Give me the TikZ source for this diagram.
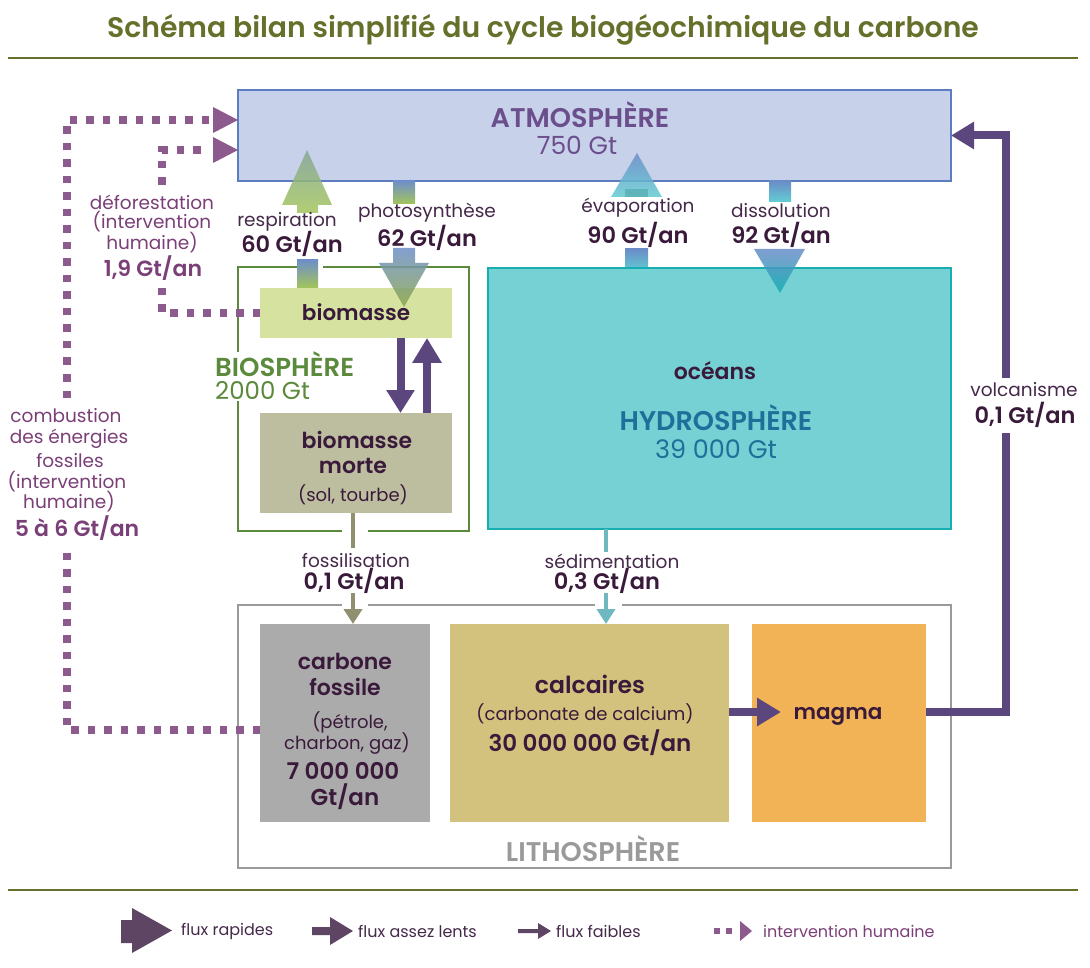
\documentclass[tikz,border=0pt]{standalone}
\usepackage{fontspec}
\setmainfont{Poppins}[BoldFont=Poppins SemiBold]
\usetikzlibrary{arrows.meta}
\newcommand\fsz[1]{\fontsize{#1}{#1}\selectfont}
\definecolor{titlecol}{HTML}{66702B}
\definecolor{atmfill}{HTML}{C8D1EA}
\definecolor{atmborder}{HTML}{5E7DC0}
\definecolor{atmtext}{HTML}{6B4E8C}
\definecolor{labtext}{HTML}{45284A}
\definecolor{valtext}{HTML}{3A1A3A}
\definecolor{biogreen}{HTML}{5B8A3C}
\definecolor{biomfill}{HTML}{D6E3A0}
\definecolor{mortefill}{HTML}{BDBDA0}
\definecolor{oceanfill}{HTML}{76D1D4}
\definecolor{oceanborder}{HTML}{17ADB3}
\definecolor{hydrotext}{HTML}{1E6F99}
\definecolor{lithogray}{HTML}{9A9A9A}
\definecolor{fossfill}{HTML}{ABABAB}
\definecolor{calcfill}{HTML}{D2C27D}
\definecolor{magmafill}{HTML}{F2B356}
\definecolor{fluxcol}{HTML}{5C467E}
\definecolor{humcol}{HTML}{8C5A8C}
\definecolor{humtext}{HTML}{7B3F78}
\definecolor{legcol}{HTML}{5E4563}
\definecolor{respblue}{HTML}{6E8FC8}
\definecolor{respgreen}{HTML}{A3C55A}
\definecolor{evapblue}{HTML}{6A8DC8}
\definecolor{evapteal}{HTML}{62CDD2}
\definecolor{foscol}{HTML}{909070}
\definecolor{sedcol}{HTML}{70B8C0}
\begin{document}
\begin{tikzpicture}[x=1pt,y=-1pt,
  box/.style={anchor=north west, inner sep=0pt, outer sep=0pt},
  lab/.style={text=labtext, font=\fsz{18.5}, inner sep=0pt},
  val/.style={text=valtext, font=\fsz{22.5}\bfseries, inner sep=0pt},
  boxtxt/.style={text=valtext, font=\fsz{22}\bfseries, inner sep=0pt},
  small/.style={text=valtext, font=\fsz{18}, inner sep=0pt},
  hlab/.style={text=humtext, font=\fsz{18.5}, inner sep=0pt},
  hval/.style={text=humtext, font=\fsz{22}\bfseries, inner sep=0pt},
  legtxt/.style={text=labtext, font=\fsz{16}, inner sep=0pt, anchor=west},
  flux/.style={draw=fluxcol, line width=8pt, -{Triangle[length=24pt,width=27pt]}},
  hum/.style={draw=humcol, line width=7.5pt, dash pattern=on 7.5pt off 9pt},
  fos/.style={draw=foscol, line width=4pt},
  sed/.style={draw=sedcol, line width=4pt},
]
\useasboundingbox (0,0) rectangle (1090,968);
\fill[white] (0,0) rectangle (1090,968);

% title
\node[text=titlecol, font=\fsz{28.3}\bfseries, inner sep=0pt] (title) at (543,30) {Schéma bilan simplifié du cycle biogéochimique du carbone};
\draw[titlecol, line width=2pt] (8,58) -- (1078,58);
\draw[titlecol, line width=2pt] (8,890) -- (1078,890);

% atmosphere
\node[box, minimum width=713pt, minimum height=91pt, fill=atmfill, draw=atmborder, line width=2.5pt] (atm) at (238,90) {};
\node[text=atmtext, font=\fsz{27}\bfseries, inner sep=0pt] (atmT) at (580,115) {ATMOSPHÈRE};
\node[text=atmtext, font=\fsz{25}, inner sep=0pt] (atmV) at (577,145) {750 Gt};

% biosphere
\node[box, minimum width=231pt, minimum height=264pt, draw=biogreen, line width=2.5pt] (bio) at (238,267) {};
\fill[white] (297,264) rectangle (323,270);
\fill[white] (342,528) rectangle (368,534);
\fill[white] (234,352) rectangle (242,401);
\node[box, minimum width=192pt, minimum height=50pt, fill=biomfill, text=valtext, font=\fsz{21.5}\bfseries] (biom) at (260,288) {\raisebox{1pt}{biomasse}};
\node[text=biogreen, font=\fsz{26}\bfseries, inner sep=0pt, anchor=west] (bioT) at (215,364) {BIOSPHÈRE};
\node[text=biogreen, font=\fsz{24.5}, inner sep=0pt, anchor=west] (bioV) at (215,391) {2000 Gt};
\node[box, minimum width=192pt, minimum height=100pt, fill=mortefill] (morte) at (260,413) {};
\node[boxtxt] (morte1) at (357,440) {biomasse};
\node[boxtxt] (morte2) at (353,466) {morte};
\node[small] (morte3) at (353,495) {(sol, tourbe)};

% oceans
\node[box, minimum width=463pt, minimum height=261pt, fill=oceanfill, draw=oceanborder, line width=2.5pt] (ocean) at (488,268) {};
\node[boxtxt] (oceT) at (715,371) {océans};
\node[text=hydrotext, font=\fsz{27}\bfseries, inner sep=0pt] (hydT) at (716,418) {HYDROSPHÈRE};
\node[text=hydrotext, font=\fsz{25.5}, inner sep=0pt] (hydV) at (716,449) {39 000 Gt};

% lithosphere
\node[box, minimum width=713pt, minimum height=263pt, draw=lithogray, line width=2.5pt] (litho) at (238,605) {};
\fill[white] (342,602) rectangle (368,609);
\fill[white] (595,602) rectangle (622,609);
\node[text=lithogray, font=\fsz{27}\bfseries, inner sep=0pt] (lithoT) at (593,849) {LITHOSPHÈRE};
\node[box, minimum width=170pt, minimum height=198pt, fill=fossfill] (foss) at (260,624) {};
\node[boxtxt] (foss1) at (345,661) {carbone};
\node[boxtxt] (foss2) at (345,687) {fossile};
\node[small] (foss3) at (350,722) {(pétrole,};
\node[small] (foss4) at (347,744) {charbon, gaz)};
\node[boxtxt, font=\fsz{23}\bfseries] (foss5) at (343,771) {7 000 000};
\node[boxtxt, font=\fsz{23}\bfseries] (foss6) at (345,797) {Gt/an};
\node[box, minimum width=279pt, minimum height=198pt, fill=calcfill] (calc) at (450,624) {};
\node[boxtxt, font=\fsz{23.5}\bfseries] (calc1) at (590,684) {calcaires};
\node[small] (calc2) at (585,714) {(carbonate de calcium)};
\node[boxtxt, font=\fsz{23}\bfseries] (calc3) at (590,743) {30 000 000 Gt/an};
\node[box, minimum width=174pt, minimum height=198pt, fill=magmafill] (magma) at (752,624) {};
\node[boxtxt, font=\fsz{21.5}\bfseries] (magmaT) at (838,716) {magma};

% gradient flux arrows
\shade[top color=respblue!55!respgreen, bottom color=respgreen, opacity=0.85] (297,213) -- (297,205) -- (282,205) -- (307,150) -- (332,205) -- (318,205) -- (318,213) -- cycle;
\shade[top color=respblue, bottom color=respgreen] (297,260) rectangle (318,288);
\shade[top color=respblue, bottom color=respgreen] (393,181) rectangle (415,204);
\shade[top color=respblue, bottom color=respgreen!85!black, opacity=0.85] (393,248) -- (415,248) -- (415,263) -- (429,263) -- (404,307) -- (379,263) -- (393,263) -- cycle;
\shade[top color=evapblue, bottom color=evapteal, opacity=0.85] (611,197) -- (637,153) -- (662,197) -- cycle;
\fill[evapteal!80!black, opacity=0.6] (625,189) rectangle (648,197);
\shade[top color=evapblue, bottom color=evapteal!80!evapblue] (625,249) rectangle (648,267);
\shade[top color=evapblue, bottom color=evapteal] (769,181) rectangle (791,202);
\shade[top color=evapblue, bottom color=oceanborder, opacity=0.85] (754,249) -- (805,249) -- (780,293) -- cycle;

\node[lab] (respL) at (287,222) {respiration};
\node[val] (respV) at (292,244) {60 Gt/an};
\node[lab] (photL) at (427,213) {photosynthèse};
\node[val] (photV) at (427,238) {62 Gt/an};
\node[lab] (evapL) at (638,208) {évaporation};
\node[val] (evapV) at (638,235) {90 Gt/an};
\node[lab] (dissL) at (781,211) {dissolution};
\node[val] (dissV) at (781,235) {92 Gt/an};

% biomasse <-> biomasse morte
\draw[flux, -{Triangle[length=23pt,width=27pt]}] ([xshift=44.5pt]biom.south) -- ([xshift=44.5pt]morte.north);
\draw[flux, -{Triangle[length=25pt,width=28pt]}] ([xshift=71pt]morte.north) -- ([xshift=71pt]biom.south);

% fossilisation / sedimentation
\draw[fos] ([xshift=-3pt]morte.south) -- (353,548);
\draw[fos, -{Triangle[length=15pt,width=18pt]}] (353,593) -- ([xshift=8pt]foss.north);
\node[lab] (fosL) at (356,561) {fossilisation};
\node[val] (fosV) at (354,581) {0,1 Gt/an};
\draw[sed] ([xshift=-113.5pt]ocean.south) -- (606,552);
\draw[sed, -{Triangle[length=15pt,width=18pt]}] (606,593) -- ([xshift=16.5pt]calc.north);
\node[lab] (sedL) at (612,561) {sédimentation};
\node[val] (sedV) at (607,581) {0,3 Gt/an};

% calcaires -> magma -> atmosphere
\draw[flux, -{Triangle[length=24pt,width=27pt]}] ([yshift=11pt]calc.east) -- ([xshift=29pt,yshift=11pt]magma.west);
\coordinate (vc) at (1006,712);
\draw[flux, -{Triangle[length=23pt,width=26pt]}] ([yshift=11pt]magma.east) -- (vc) |- (atm.east);
\fill[white] (998,378) rectangle (1014,433);
\node[lab] (volL) at (1024,390) {volcanisme};
\node[val] (volV) at (1025,415) {0,1 Gt/an};

% human interventions
\coordinate (h1) at (67,730);
\coordinate (h2) at (67,120);
\draw[hum] ([yshift=-7pt]foss.west) -- (h1) -- (67,548);
\draw[hum] (67,398) -- (h2) -- (209,120);
\fill[humcol] (213,107) -- ([yshift=15.5pt]atm.west) -- (213,133) -- cycle;
\coordinate (d1) at (162,313);
\coordinate (d2) at (162,150);
\draw[hum] (biom.west) -- (d1) -- (162,283);
\draw[hum] (162,185) -- (d2) -- (209,150);
\fill[humcol] (213,137) -- ([yshift=-14.5pt]atm.west) -- (213,163) -- cycle;

\node[hlab] (defL1) at (152,202) {déforestation};
\node[hlab] (defL2) at (152,222) {(intervention};
\node[hlab] (defL3) at (152,243) {humaine)};
\node[hval] (defV) at (153,268) {1,9 Gt/an};
\node[hlab] (comL1) at (66,416) {combustion};
\node[hlab] (comL2) at (69,439) {des énergies};
\node[hlab] (comL3) at (70,461) {fossiles};
\node[hlab] (comL4) at (67,482) {(intervention};
\node[hlab] (comL5) at (69,502) {humaine)};
\node[hval] (comV) at (77,528) {5 à 6 Gt/an};

% legend
\fill[legcol] (121,920) -- (132,920) -- (132,908) -- (172,930.5) -- (132,953) -- (132,943) -- (121,943) -- cycle;
\node[legtxt] (leg1) at (181,931) {flux rapides};
\fill[legcol] (312,927) -- (330,927) -- (330,917) -- (353,931) -- (330,945) -- (330,935) -- (312,935) -- cycle;
\node[legtxt] (leg2) at (358,931) {flux assez lents};
\fill[legcol] (518,929) -- (538,929) -- (538,923) -- (551,931) -- (538,939) -- (538,933) -- (518,933) -- cycle;
\node[legtxt] (leg3) at (556,931) {flux faibles};
\fill[humcol] (714,928) rectangle (720,934);
\fill[humcol] (726,928) rectangle (732,934);
\fill[humcol] (740,921) -- (752,931) -- (740,941) -- cycle;
\node[legtxt, text=humtext] (leg4) at (763,931) {intervention humaine};
\end{tikzpicture}
\end{document}
